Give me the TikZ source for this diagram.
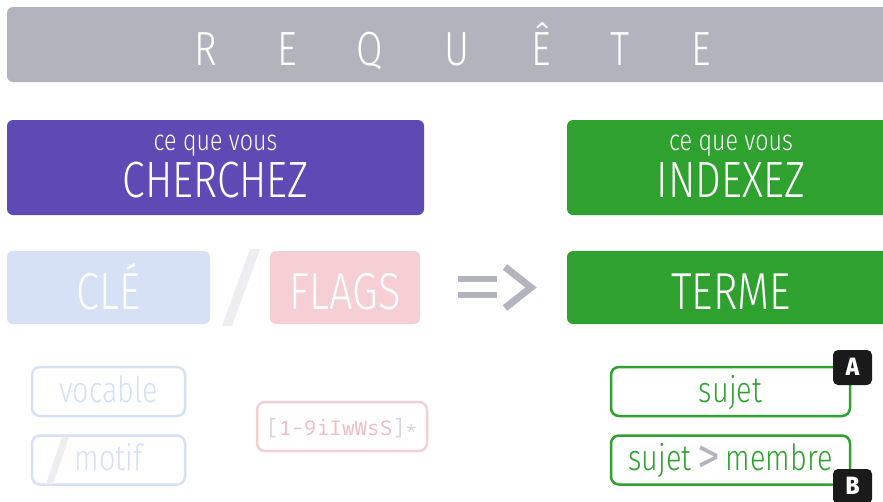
\documentclass[tikz,border=0pt]{standalone}
\usepackage{fontspec}
\IfFontExistsTF{Fira Sans Light}
  {\setmainfont{Fira Sans Light}[FakeStretch=0.8]}
  {\setmainfont{Fira Sans}[FakeStretch=0.8]}
\newfontfamily\boldsans{Fira Sans}[FakeStretch=0.9]
\IfFontExistsTF{Fira Sans ExtraBold}
  {\newfontfamily\badgefont{Fira Sans ExtraBold}[FakeStretch=0.9]\let\badgeweight\relax}
  {\newfontfamily\badgefont{Fira Sans}[FakeStretch=0.9]\let\badgeweight\bfseries}
\IfFontExistsTF{Fira Mono}
  {\newfontfamily\regexfont{Fira Mono}}
  {\newfontfamily\regexfont{DejaVu Sans Mono}}
\definecolor{reqgray}{HTML}{B3B3BD}
\definecolor{cherchezpurple}{HTML}{5D4AB5}
\definecolor{indexgreen}{HTML}{2EA12F}
\definecolor{clebleu}{HTML}{D6E1F6}
\definecolor{flagsrose}{HTML}{F5CFD4}
\definecolor{slashgray}{HTML}{EEEEF1}
\definecolor{arrowgray}{HTML}{B4B4BE}
\definecolor{badgeblack}{HTML}{1A1A1A}
\definecolor{regexrose}{HTML}{F0BDC4}
\definecolor{bracketgray}{HTML}{D6D6D9}
\begin{document}
\begin{tikzpicture}[x=1pt,y=-1pt,line join=miter,
  box/.style={rectangle,rounded corners=6pt,inner sep=0pt,text depth=0pt,text=white},
  outline/.style={rectangle,rounded corners=8pt,draw,line width=2.5pt,fill=white,inner sep=0pt,text depth=0pt,minimum height=49pt},
  badge/.style={rectangle,rounded corners=5pt,fill=badgeblack,text=white,inner sep=0pt,minimum width=39pt,minimum height=35pt,text depth=0pt,font=\badgefont\badgeweight\fontsize{25}{25}\selectfont},
  reqletter/.style={anchor=base,text=white,inner sep=0pt,font=\fontsize{48}{48}\selectfont},
  subtext/.style={anchor=base,text=white,inner sep=0pt,font=\fontsize{29}{29}\selectfont},
  bigtext/.style={font=\fontsize{51}{51}\selectfont,minimum height=95pt,text height=59pt},
  midtext/.style={font=\fontsize{52}{52}\selectfont,minimum height=73pt,text height=44pt},
  itemtext/.style={font=\fontsize{36}{36}\selectfont,minimum width=153pt}]

 \clip (0,0) rectangle (883,501);
 \fill [white] (0,0) rectangle (883,501);

 % bandeau
 \node (req) at (453.5,44.5) [box,fill=reqgray,minimum width=893pt,minimum height=75pt] {};
 \foreach \x/\l [count=\i] in {206/R,287/E,370/Q,457/U,541/Ê,620/T,701/E}
   \node (req\i) at (\x,65) [reqletter] {\l};

 % ligne 1
 \node (cherchez) at (215.5,167.5) [box,bigtext,fill=cherchezpurple,minimum width=417pt] {CHERCHEZ};
 \node (cherchezsub) at (215.5,150) [subtext] {ce que vous};
 \node (indexez) at (731,167.5) [box,bigtext,fill=indexgreen,minimum width=328pt] {INDEXEZ};
 \node (indexezsub) at (731,150) [subtext] {ce que vous};

 % ligne 2
 \node (cle) at (108.5,287.5) [box,midtext,fill=clebleu,minimum width=203pt] {CLÉ};
 \node (flags) at (345,287.5) [box,midtext,fill=flagsrose,minimum width=150pt] {FLAGS};
 \node (terme) at (731,287.5) [box,midtext,fill=indexgreen,minimum width=328pt] {TERME};
 \fill [slashgray] (222,326) -- (232,326) -- (260,249) -- (250,249) -- cycle;

 % =>
 \draw [arrowgray,line width=6pt] (458,278.5) -- (497,278.5) (458,295) -- (497,295);
 \draw [arrowgray,line width=7pt] (505,267) -- (531,287.5) -- (505,308);

 % ligne 3
 \node (vocable) at (108.5,391.5) [outline,itemtext,draw=clebleu,text=clebleu,text height=21pt] {vocable};
 \node (motif) at (108.5,460) [outline,itemtext,draw=clebleu,text=clebleu,text height=20pt] {motif};
 \fill [slashgray] (46,484) -- (53,484) -- (69,437) -- (62,437) -- cycle;
 \node (regex) at (342,426.5) [outline,draw=flagsrose,text=regexrose,minimum width=170pt,text height=17pt,font=\regexfont\fontsize{21}{21}\selectfont]
   {{\color{bracketgray}[}1-9iIwWsS{\color{bracketgray}]*}};
 \node (sujet) at (730.5,391.5) [outline,itemtext,draw=indexgreen,text=indexgreen,minimum width=239pt,text height=21pt] {sujet};
 \node (membre) at (730.5,460) [outline,itemtext,draw=indexgreen,text=indexgreen,minimum width=239pt,text height=20pt]
   {sujet\,\raisebox{-3pt}{\color{arrowgray}\boldsans\fontsize{50}{36}\selectfont >}\,membre};
 \node (badgeA) at (852.5,367.5) [badge,text height=15pt] {A};
 \node (badgeB) at (852.5,486.5) [badge,text height=16pt] {B};
\end{tikzpicture}
\end{document}
